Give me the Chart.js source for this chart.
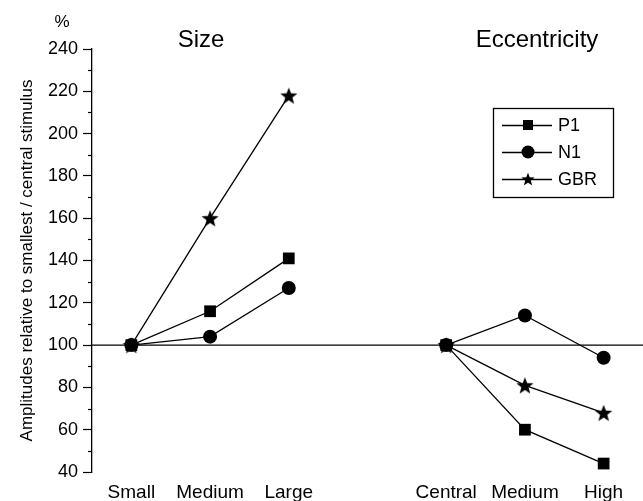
<!DOCTYPE html>
<html>
<head>
<meta charset="utf-8">
<title>Size / Eccentricity</title>
<script src="https://cdn.jsdelivr.net/npm/chart.js@4.4.0/dist/chart.umd.min.js"></script>
<style>
  html, body { margin: 0; padding: 0; background: #fff; }
  #wrap { width: 643px; height: 501px; position: relative; }
</style>
</head>
<body>
<div id="wrap"><canvas id="chart"></canvas></div>
<script>
// --- data (blank slot splits the two experiments) ---
const categories = ['Small', 'Medium', 'Large', '', 'Central', 'Medium', 'High'];
const groupTitles = ['Size', 'Eccentricity'];
const seriesNames = ['P1', 'N1', 'GBR'];
const p1Values  = [100, 116, 141, null, 100, 60, 44];
const n1Values  = [100, 104, 127, null, 100, 114, 94];
const gbrValues = [100, 160, 218, null, 100, 81, 68];
const yMin = 40, yMax = 240, yStep = 20;
const baseline = 100;

const FONT = '"Liberation Sans", Arial, Helvetica, sans-serif';

// filled five-point star, Chart.js only has the asterisk one
function makeStar(size) {
    const cv = document.createElement('canvas');
    cv.width = size; cv.height = size;
    const g = cv.getContext('2d');
    const cx = size / 2, cy = size / 2 + size * 0.05, R = size / 2, r = R * 0.42;
    g.beginPath();
    for (let i = 0; i < 10; i++) {
        const a = -Math.PI / 2 + i * Math.PI / 5;
        const rad = i % 2 ? r : R;
        g.lineTo(cx + rad * Math.cos(a), cy + rad * Math.sin(a));
    }
    g.closePath();
    g.fillStyle = '#000';
    g.fill();
    return cv;
}
const star = makeStar(18);
const starSmall = makeStar(14);

function series(label, data, style, radius, order) {
    return {
        label, data, order,
        borderColor: '#000', backgroundColor: '#000',
        borderWidth: 1.3,
        pointStyle: style, pointRadius: radius, pointHoverRadius: radius,
        pointBorderWidth: 0,
        spanGaps: false, tension: 0, clip: false
    };
}

// line at 100 %, group titles, minor ticks, legend box
const extras = {
    id: 'extras',
    beforeDatasetsDraw(chart) {
        const { ctx, chartArea, scales } = chart;
        const y = scales.y.getPixelForValue(baseline);
        ctx.save();
        ctx.strokeStyle = '#000';
        ctx.lineWidth = 1.3;
        ctx.beginPath();
        ctx.moveTo(chartArea.left, y);
        ctx.lineTo(chart.width, y);
        ctx.stroke();
        ctx.restore();
    },
    afterDraw(chart) {
        const { ctx, chartArea, scales } = chart;
        ctx.save();
        ctx.fillStyle = '#000';
        ctx.strokeStyle = '#000';

        // minor ticks
        ctx.lineWidth = 1.2;
        for (let v = yMin + yStep / 2; v < yMax; v += yStep) {
            const py = Math.round(scales.y.getPixelForValue(v)) + 0.5;
            ctx.beginPath();
            ctx.moveTo(chartArea.left - 4, py);
            ctx.lineTo(chartArea.left, py);
            ctx.stroke();
        }

        // unit + group titles
        ctx.textAlign = 'center';
        ctx.textBaseline = 'middle';
        ctx.font = '17px ' + FONT;
        ctx.fillText('%', 62, 22);
        ctx.font = '24px ' + FONT;
        ctx.fillText(groupTitles[0], 201, 40);
        ctx.fillText(groupTitles[1], 537, 40);

        // legend
        const bx = 493, by = 108, bw = 120, bh = 89;
        ctx.lineWidth = 1.3;
        ctx.strokeRect(bx + 0.5, by + 0.5, bw, bh);
        const rows = [125, 152, 179];
        ctx.textAlign = 'left';
        ctx.font = '18px ' + FONT;
        chart.data.datasets.slice().sort((a, b) => seriesNames.indexOf(a.label) - seriesNames.indexOf(b.label))
            .forEach((ds, i) => {
                const ry = rows[i];
                ctx.beginPath();
                ctx.moveTo(502, ry + 0.5);
                ctx.lineTo(552, ry + 0.5);
                ctx.stroke();
                const mx = 528;
                if (ds.pointStyle === 'rect') {
                    ctx.fillRect(mx - 5, ry - 5, 10, 10);
                } else if (ds.pointStyle === 'circle') {
                    ctx.beginPath();
                    ctx.arc(mx, ry, 6.5, 0, Math.PI * 2);
                    ctx.fill();
                } else {
                    ctx.drawImage(starSmall, mx - 7, ry - 7);
                }
                ctx.fillText(ds.label, 558, ry + 1);
            });
        ctx.restore();
    }
};

const chart = new Chart(document.getElementById('chart'), {
    type: 'line',
    data: {
        labels: categories,
        datasets: [
            series(seriesNames[1], n1Values, 'circle', 7, 0),
            series(seriesNames[0], p1Values, 'rect', 8.3, 1),
            series(seriesNames[2], gbrValues, star, 9, 2)
        ]
    },
    options: {
        responsive: true,
        maintainAspectRatio: false,
        animation: false,
        events: [],
        layout: { autoPadding: false, padding: { top: 49, right: 0, bottom: 0, left: 0 } },
        plugins: { legend: { display: false }, tooltip: { enabled: false } },
        scales: {
            x: {
                type: 'category',
                offset: true,
                grid: { display: false, drawTicks: false },
                border: { display: false },
                ticks: { color: '#000', font: { family: FONT, size: 19 }, padding: 9, autoSkip: false, maxRotation: 0 },
                afterFit: s => { s.height = 29; s.paddingLeft = 0; s.paddingRight = 0; }
            },
            y: {
                min: yMin, max: yMax,
                ticks: { stepSize: yStep, color: '#000', font: { family: FONT, size: 18 }, padding: 5 },
                grid: { drawOnChartArea: false, tickLength: 9, color: '#000', tickWidth: 1.2 },
                border: { display: true, color: '#000', width: 1.3 },
                title: {
                    display: true,
                    text: 'Amplitudes relative to smallest / central stimulus',
                    color: '#000',
                    font: { family: FONT, size: 17 },
                    padding: { top: 17, bottom: 0 }
                },
                afterFit: s => { s.width = 92; s.paddingTop = 0; s.paddingBottom = 0; }
            }
        }
    },
    plugins: [extras]
});
</script>
</body>
</html>
